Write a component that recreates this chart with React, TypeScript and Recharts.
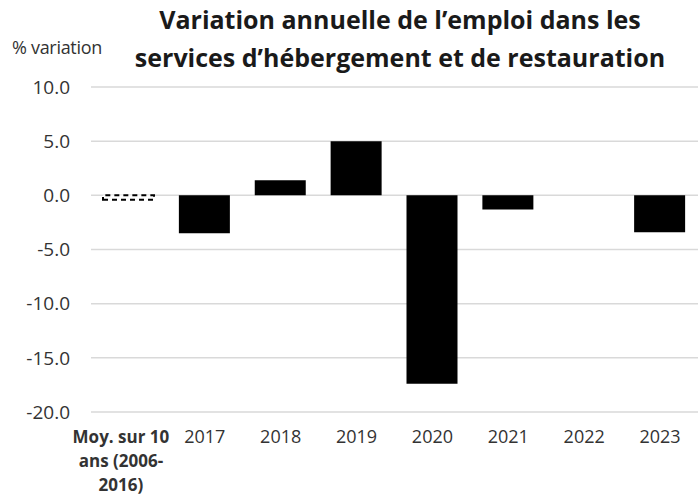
import React from "react";
import { BarChart, Bar, XAxis, YAxis, CartesianGrid, Cell } from "recharts";

const categories = [
  "Moy. sur 10|ans (2006-|2016)",
  "2017",
  "2018",
  "2019",
  "2020",
  "2021",
  "2022",
  "2023",
];
const variations = [-0.4, -3.5, 1.4, 5.0, -17.4, -1.3, 0, -3.4];
const yTicks = [-20, -15, -10, -5, 0, 5, 10];

const data = categories.map((name, i) => ({ name, value: variations[i] }));

const FONT = "'Open Sans', 'Noto Sans', sans-serif";

const CategoryTick = ({ x, y, payload, index }: any) => {
  const lines = String(payload.value).split("|");
  // the multi-line first label sits a little left of its bar
  const cx = index === 0 ? x - 8 : x;
  return (
    <text
      x={cx}
      y={y + 23}
      textAnchor="middle"
      fontFamily={FONT}
      fontSize={index === 0 ? 17 : 18}
      fontWeight={index === 0 ? 700 : 400}
      fill="#333"
    >
      {lines.map((l, i) => (
        <tspan key={i} x={cx} dy={i === 0 ? 0 : 24}>
          {l}
        </tspan>
      ))}
    </text>
  );
};

const App: React.FC = () => {
  return (
    <div style={{ position: "absolute", left: 0, top: 0, width: 698, height: 502, background: "#fff" }}>
      <BarChart
        width={698}
        height={502}
        data={data}
        margin={{ top: 87, right: 0, left: 0, bottom: 0 }}
        barSize={51}
      >
        <CartesianGrid vertical={false} stroke="#d9d9d9" strokeWidth={1.5} />
        <XAxis
          dataKey="name"
          axisLine={false}
          tickLine={false}
          interval={0}
          height={90}
          tick={<CategoryTick />}
        />
        <YAxis
          domain={[-20, 10]}
          ticks={yTicks}
          width={91}
          axisLine={false}
          tickLine={false}
          tickSize={0}
          tickMargin={21}
          tickFormatter={(v: number) => v.toFixed(1)}
          tick={{ fontFamily: FONT, fontSize: 19, fill: "#333" }}
        />
        <Bar dataKey="value" isAnimationActive={false}>
          {data.map((d, i) =>
            i === 0 ? (
              <Cell key={i} fill="#fff" stroke="#000" strokeWidth={2} strokeDasharray="5 4" />
            ) : (
              <Cell key={i} fill="#000" />
            )
          )}
        </Bar>
      </BarChart>
      <div
        style={{
          position: "absolute",
          left: 100,
          width: 600,
          top: 0,
          textAlign: "center",
          fontFamily: FONT,
          fontWeight: 700,
          fontSize: 25,
          lineHeight: "38px",
          color: "#1a1a1a",
        }}
      >
        Variation annuelle de l’emploi dans les
        <br />
        services d’hébergement et de restauration
      </div>
      <div
        style={{
          position: "absolute",
          left: 12,
          top: 35,
          fontFamily: FONT,
          fontSize: 18,
          color: "#333",
          whiteSpace: "nowrap",
          letterSpacing: -0.3,
        }}
      >
        % variation
      </div>
    </div>
  );
};

export default App;
